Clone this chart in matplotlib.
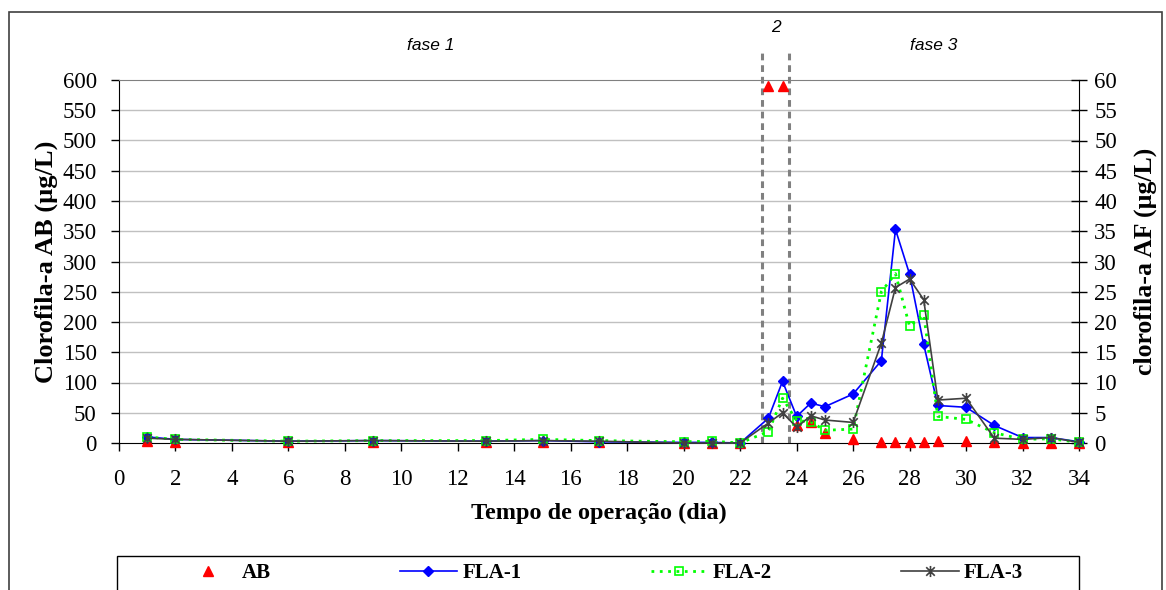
import numpy as np
import matplotlib
matplotlib.use("Agg")
import matplotlib.pyplot as plt
from matplotlib.path import Path
from matplotlib.patches import Rectangle

# days of operation
dias = [1, 2, 6, 9, 13, 15, 17, 20, 21, 22, 23, 23.5, 24, 24.5, 25, 26,
        27, 27.5, 28, 28.5, 29, 30, 31, 32, 33, 34]

# clorofila-a AB (left axis, ug/L)
ab = [3, 2, 1, 1, 1, 2, 1, 0, 0, 0, 590, 590, 30, 35, 17, 6,
      1, 1, 1, 1, 4, 4, 1, 0, 0.5, 0]

# clorofila-a AF (right axis, ug/L)
fla1 = [1.0, 0.6, 0.3, 0.4, 0.3, 0.4, 0.2, 0.1, 0.1, 0.0, 4.1, 10.2, 4.4, 6.6, 6.0, 8.1,
        13.6, 35.3, 27.9, 16.3, 6.2, 5.9, 2.9, 0.9, 0.9, 0.2]
fla2 = [1.0, 0.6, 0.3, 0.4, 0.4, 0.6, 0.4, 0.2, 0.3, 0.0, 1.9, 7.4, 3.7, 3.5, 2.1, 2.3,
        25.0, 28.0, 19.3, 21.2, 4.4, 3.9, 1.7, 0.6, 0.7, 0.1]
fla3 = [0.8, 0.6, 0.3, 0.4, 0.3, 0.4, 0.3, 0.0, 0.0, 0.0, 3.3, 5.0, 2.6, 4.5, 3.8, 3.4,
        16.5, 25.7, 27.1, 23.7, 7.1, 7.4, 0.8, 0.6, 0.9, 0.1]

# phase limits (days) and labels
limites_fase = [22.77, 23.73]
fases = [("fase 1", 11.05), ("2", 23.25), ("fase 3", 28.86)]

serif = "Liberation Serif"
sans = "Liberation Sans"

# excel-like star marker: x plus vertical bar
star = Path([(-1, -1), (1, 1), (-1, 1), (1, -1), (0, -1.3), (0, 1.3)],
            [Path.MOVETO, Path.LINETO, Path.MOVETO, Path.LINETO, Path.MOVETO, Path.LINETO])

fig = plt.figure(figsize=(11.66, 5.90), dpi=100)
ax = fig.add_axes([119 / 1166, 1 - 443 / 590, (1079 - 119) / 1166, (443 - 80) / 590])
ax2 = ax.twinx()

ax.set_xlim(0, 34)
ax.set_ylim(0, 600)
ax2.set_ylim(0, 60)
ax.set_xticks(np.arange(0, 35, 2))
ax.set_yticks(np.arange(0, 601, 50))
ax2.set_yticks(np.arange(0, 61, 5))

for y in np.arange(50, 600, 50):
    ax.axhline(y, color="#c0c0c0", lw=1, zorder=0)

for s in ["left", "bottom"]:
    ax.spines[s].set_color("black")
ax.spines["top"].set_color("#808080")
ax.spines["right"].set_visible(False)
for s in ["top", "left", "bottom"]:
    ax2.spines[s].set_visible(False)
ax2.spines["right"].set_color("black")

ax.tick_params(axis="both", direction="out", length=6, width=1, labelsize=16.5)
ax.tick_params(axis="x", pad=13)
ax.tick_params(axis="y", pad=10)
ax2.tick_params(axis="y", direction="inout", length=12, width=1, labelsize=16.5, pad=5)
for lab in ax.get_xticklabels() + ax.get_yticklabels() + ax2.get_yticklabels():
    lab.set_fontfamily(serif)

ax.set_xlabel("Tempo de operação (dia)", fontfamily=serif, fontweight="bold",
              fontsize=17.5, labelpad=9)
ax.set_ylabel("Clorofila-a AB (µg/L)", fontfamily=serif, fontweight="bold",
              fontsize=19, labelpad=3)
ax2.set_ylabel("clorofila-a AF (µg/L)", fontfamily=serif, fontweight="bold",
               fontsize=18.5, labelpad=12)

# series
h_ab, = ax2.plot([], [], ls="none", marker="^", color="red", ms=7, label="AB")
ax.plot(dias, ab, ls="none", marker="^", color="red", ms=7, zorder=3, clip_on=False)
h1, = ax2.plot(dias, fla1, color="#0000ff", lw=1.2, marker="D", ms=5, mec="#0000ff",
               label="FLA-1", zorder=4, clip_on=False)
h2, = ax2.plot(dias, fla2, color="#00ff00", lw=2, ls=(0, (1, 2)), marker="s", ms=6,
               mfc="none", mec="#00ff00", mew=1.2, label="FLA-2", zorder=5, clip_on=False)
h3, = ax2.plot(dias, fla3, color="#404040", lw=1.2, marker=star, ms=8, mew=1.2,
               label="FLA-3", zorder=6, clip_on=False)
ax2.set_zorder(ax.get_zorder() + 1)
ax.patch.set_visible(True)
ax2.patch.set_visible(False)

# phase separators
for xv in limites_fase:
    ax.plot([xv, xv], [0, 600 + 28 / 0.605], color="#808080", lw=2.2,
            ls=(0, (2.2, 1.6)), clip_on=False, zorder=2)
for txt, xv in fases:
    yv = 600 + 52 / 0.605 if txt == "2" else 600 + 34 / 0.605
    ax.text(xv, yv, txt, fontfamily=sans, style="italic", fontsize=12.5,
            ha="center", va="center")

# legend (entries centred in a separate box)
leg = fig.legend(handles=[h_ab, h1, h2, h3], loc="center", ncol=4,
                 bbox_to_anchor=(601 / 1166, 1 - 573 / 590), frameon=False,
                 prop={"family": serif, "weight": "bold", "size": 15},
                 handlelength=2.75, handletextpad=0.25, columnspacing=6.2)
fig.patches.append(Rectangle((117 / 1166, -0.05), (1079 - 117) / 1166, 0.05 + 1 - 556 / 590,
                             transform=fig.transFigure, fill=False, edgecolor="black", lw=1))

# chart area border
fig.patches.append(Rectangle((9 / 1166, -0.05), (1162 - 9) / 1166, 1 - 12 / 590 + 0.05,
                             transform=fig.transFigure, fill=False, edgecolor="#404040",
                             lw=1.2))

fig.savefig("out.png", dpi=100)
